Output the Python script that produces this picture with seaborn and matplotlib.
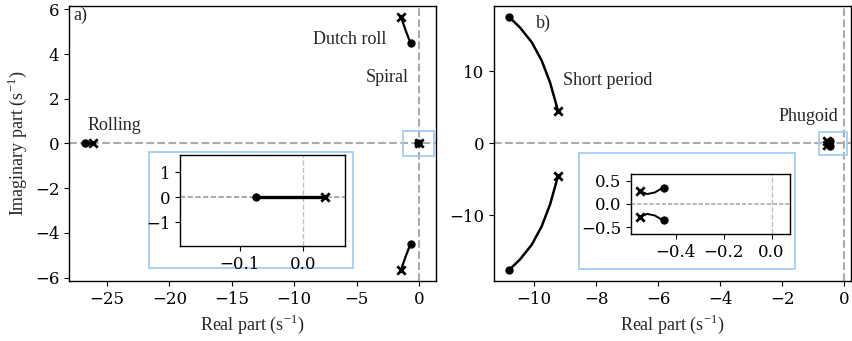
import matplotlib
matplotlib.use("Agg")
import matplotlib.pyplot as plt
import seaborn as sns
from matplotlib.patches import Rectangle

# ---- eigenvalue loci (real, imaginary parts in 1/s) ----
# lateral modes
dutch_up_re = [-1.43, -1.07, -0.67]
dutch_up_im = [5.64, 5.06, 4.48]
dutch_lo_re = [-1.43, -1.07, -0.67]
dutch_lo_im = [-5.64, -5.06, -4.48]
rolling_re = [-26.1, -26.76]
rolling_im = [0.0, 0.0]
spiral_re = [0.035, -0.075]
spiral_im = [0.0, 0.0]

# longitudinal modes
short_up_re = [-9.22, -9.48, -9.75, -10.07, -10.45, -10.81]
short_up_im = [4.45, 8.45, 11.5, 14.05, 16.1, 17.6]
short_lo_re = [-9.22, -9.48, -9.75, -10.07, -10.45, -10.81]
short_lo_im = [-4.45, -8.45, -11.5, -14.05, -16.1, -17.6]
phug_up_re = [-0.551, -0.52, -0.488, -0.467, -0.45]
phug_up_im = [0.28, 0.215, 0.25, 0.315, 0.355]
phug_lo_re = [-0.551, -0.52, -0.488, -0.467, -0.45]
phug_lo_im = [-0.28, -0.215, -0.25, -0.315, -0.355]

left_xticks = [-25, -20, -15, -10, -5, 0]
left_yticks = [-6, -4, -2, 0, 2, 4, 6]
right_xticks = [-10, -8, -6, -4, -2, 0]
right_yticks = [-10, 0, 10]
inset_l_xticks = [-0.1, 0.0]
inset_l_yticks = [-1, 0, 1]
inset_r_xticks = [-0.4, -0.2, 0.0]
inset_r_yticks = [-0.5, 0.0, 0.5]

sns.set_theme(style="ticks")
plt.rcParams["font.family"] = ["DejaVu Serif"]
plt.rcParams["axes.edgecolor"] = "black"
plt.rcParams["axes.linewidth"] = 1.0
plt.rcParams["xtick.color"] = "black"
plt.rcParams["ytick.color"] = "black"
plt.rcParams["xtick.labelsize"] = 12
plt.rcParams["ytick.labelsize"] = 12
plt.rcParams["xtick.major.size"] = 3.5
plt.rcParams["ytick.major.size"] = 3.5
plt.rcParams["xtick.major.width"] = 0.8
plt.rcParams["ytick.major.width"] = 0.8
plt.rcParams["xtick.major.pad"] = 3.5
plt.rcParams["ytick.major.pad"] = 3.5

SERIF = "Liberation Serif"
TXT = 13
GRID = "#ababab"
BOX = "#a3cdf3"

fig = plt.figure(figsize=(8.53, 3.41), dpi=100)
ax1 = fig.add_axes([0.0809, 0.1760, 0.4297, 0.8065])
ax2 = fig.add_axes([0.5791, 0.1760, 0.4185, 0.8065])


def branch(ax, re, im, lw=1.6, ms=36):
    sns.lineplot(x=re, y=im, ax=ax, color="black", lw=lw, sort=False,
                 estimator=None, zorder=3)
    sns.scatterplot(x=[re[0]], y=[im[0]], ax=ax, marker="x", color="black",
                    s=ms, linewidth=2, zorder=4)
    sns.scatterplot(x=[re[-1]], y=[im[-1]], ax=ax, marker="o", color="black",
                    s=ms, edgecolor="black", linewidth=0, zorder=4)


def axes_lines(ax):
    ax.axhline(0, color=GRID, ls="--", lw=1.5, zorder=1)
    ax.axvline(0, color=GRID, ls="--", lw=1.5, zorder=1)


# ---- lateral dynamics ----
axes_lines(ax1)
branch(ax1, dutch_up_re, dutch_up_im)
branch(ax1, dutch_lo_re, dutch_lo_im)
branch(ax1, rolling_re, rolling_im, lw=2.4)
branch(ax1, spiral_re, spiral_im, lw=2.4)
ax1.add_patch(Rectangle((-1.25, -0.58), 2.47, 1.16, fill=False,
                        edgecolor=BOX, lw=1.3, zorder=5))
ax1.set_xlim(-28.05, 1.33)
ax1.set_ylim(-6.15, 6.15)
ax1.set_xticks(left_xticks)
ax1.set_yticks(left_yticks)
ax1.set_xlabel("Real part (s$^{\\mathregular{-1}}$)", family=SERIF, fontsize=TXT)
ax1.set_ylabel("Imaginary part (s$^{\\mathregular{-1}}$)", family=SERIF, fontsize=TXT)
ax1.text(-27.7, 5.75, "a)", family=SERIF, fontsize=TXT, va="center")
ax1.text(-2.6, 4.64, "Dutch roll", family=SERIF, fontsize=TXT, va="center", ha="right")
ax1.text(-0.85, 2.95, "Spiral", family=SERIF, fontsize=TXT, va="center", ha="right")
ax1.text(-26.6, 0.8, "Rolling", family=SERIF, fontsize=TXT, va="center")

# ---- longitudinal dynamics ----
axes_lines(ax2)
branch(ax2, short_up_re, short_up_im, lw=1.8)
branch(ax2, short_lo_re, short_lo_im, lw=1.8)
branch(ax2, phug_up_re, phug_up_im)
branch(ax2, phug_lo_re, phug_lo_im)
ax2.add_patch(Rectangle((-0.81, -1.6), 0.91, 3.2, fill=False,
                        edgecolor=BOX, lw=1.3, zorder=5))
ax2.set_xlim(-11.29, 0.22)
ax2.set_ylim(-19.1, 19.1)
ax2.set_xticks(right_xticks)
ax2.set_yticks(right_yticks)
ax2.set_xlabel("Real part (s$^{\\mathregular{-1}}$)", family=SERIF, fontsize=TXT)
ax2.set_ylabel("")
ax2.text(-9.94, 16.7, "b)", family=SERIF, fontsize=TXT, va="center")
ax2.text(-9.07, 8.7, "Short period", family=SERIF, fontsize=TXT, va="center")
ax2.text(-2.13, 3.8, "Phugoid", family=SERIF, fontsize=TXT, va="center")

# ---- zoom frames and insets ----
fig.patches.append(Rectangle((0.1747, 0.2141), 0.2392, 0.3402, transform=fig.transFigure,
                             facecolor="white", edgecolor=BOX, lw=1.3, zorder=2))
fig.patches.append(Rectangle((0.6788, 0.2111), 0.2532, 0.3402, transform=fig.transFigure,
                             facecolor="white", edgecolor=BOX, lw=1.3, zorder=2))

in1 = fig.add_axes([0.2110, 0.2786, 0.1934, 0.2669], zorder=3)
in1.axhline(0, color=GRID, ls=(0, (2.5, 1.2)), lw=1.5, zorder=1)
in1.axvline(0, color="#c0c0c0", ls="--", lw=1.0, zorder=1)
branch(in1, spiral_re, spiral_im, lw=2.4)
in1.set_xlim(-0.195, 0.067)
in1.set_ylim(-1.95, 1.69)
in1.set_xticks(inset_l_xticks)
in1.set_yticks(inset_l_yticks)

in2 = fig.add_axes([0.7397, 0.3138, 0.1864, 0.1760], zorder=3)
in2.axhline(0, color=GRID, ls=(0, (2.5, 1.2)), lw=1.2, zorder=1)
in2.axvline(0, color="#c0c0c0", ls="--", lw=1.0, zorder=1)
branch(in2, phug_up_re, phug_up_im, lw=1.4)
branch(in2, phug_lo_re, phug_lo_im, lw=1.4)
in2.set_xlim(-0.588, 0.077)
in2.set_ylim(-0.65, 0.65)
in2.set_xticks(inset_r_xticks)
in2.set_yticks(inset_r_yticks)

for a in (ax1, ax2, in1, in2):
    for s in a.spines.values():
        s.set_visible(True)
        s.set_color("black")

fig.savefig("out.png", dpi=100)
